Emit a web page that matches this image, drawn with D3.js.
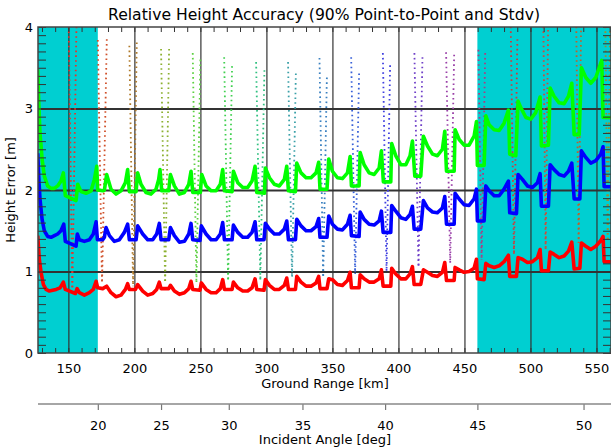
<!DOCTYPE html>
<html>
<head>
<meta charset="utf-8">
<script src="https://cdn.jsdelivr.net/npm/d3@7"></script>
<style>
  body { margin: 0; background: #fff; }
  svg { display: block; font-family: "DejaVu Sans", sans-serif; }
</style>
</head>
<body>
<div id="chart"></div>
<script>

// ground range [km] and height error [m] along each envelope curve
var green = [
  [126.8,3.48],[127.5,3.11],[128.5,2.70],[130.1,2.38],[131.8,2.17],[134.3,2.05],[136.9,2.02],[139.4,2.02],[141.9,2.05],[144.4,2.11],[146.2,2.21],
  [147.7,1.93],[155.8,1.87],[157.1,2.07],[159.6,1.98],[163.4,1.96],[167.2,1.99],[169.7,2.13],[171.5,2.29],
  [172.2,2.00],[176.0,1.99],[177.3,2.00],[179.0,2.19],[182.3,2.01],[186.1,1.95],[189.9,1.99],[193.2,2.09],[194.9,2.25],
  [196.2,1.98],[201.3,1.98],[202.5,2.21],[205.0,2.07],[208.8,1.97],[212.6,1.95],[216.4,2.01],[218.4,2.13],[219.4,2.25],
  [220.7,1.99],[226.0,1.99],[227.3,2.19],[230.3,2.05],[234.1,1.95],[237.9,1.97],[241.2,2.07],[242.9,2.23],
  [244.2,1.97],[250.0,1.97],[251.0,2.19],[254.3,2.05],[258.1,1.99],[261.9,1.99],[265.1,2.07],[266.9,2.25],
  [268.2,1.99],[274.0,1.98],[275.0,2.23],[278.3,2.09],[282.1,2.03],[285.8,2.03],[289.1,2.11],[291.4,2.29],
  [292.7,1.97],[298.5,1.96],[299.2,2.27],[302.3,2.15],[306.0,2.07],[309.8,2.05],[313.6,2.13],[315.4,2.29],
  [316.7,1.99],[322.0,1.98],[323.0,2.33],[326.2,2.21],[330.0,2.15],[333.8,2.15],[337.6,2.21],[339.6,2.34],
  [340.6,2.01],[345.9,2.01],[347.2,2.38],[350.0,2.23],[353.8,2.15],[357.6,2.14],[361.4,2.21],[363.4,2.41],
  [364.4,2.05],[370.2,2.05],[371.0,2.46],[374.0,2.31],[377.8,2.21],[381.6,2.19],[385.4,2.27],[387.1,2.48],
  [388.6,2.10],[394.2,2.10],[394.9,2.57],[398.0,2.42],[401.8,2.31],[405.6,2.31],[408.8,2.42],[410.6,2.60],
  [412.4,2.17],[416.9,2.17],[418.9,2.66],[422.0,2.54],[425.8,2.44],[429.5,2.42],[433.3,2.50],[435.1,2.72],
  [436.4,2.23],[442.2,2.23],[442.9,2.74],[446.0,2.62],[449.7,2.55],[453.5,2.55],[457.3,2.66],[459.1,2.84],
  [459.8,2.30],[464.9,2.30],[466.2,2.91],[468.7,2.80],[472.5,2.74],[476.3,2.73],[480.0,2.82],[483.3,2.98],
  [484.3,2.44],[488.9,2.42],[490.6,3.09],[492.7,3.01],[496.5,2.89],[500.2,2.87],[504.0,2.95],[507.3,3.14],
  [508.3,2.54],[513.6,2.55],[514.9,3.25],[517.9,3.15],[521.7,3.07],[525.5,3.06],[528.8,3.15],[531.3,3.31],
  [533.1,2.68],[536.9,2.68],[538.6,3.50],[541.9,3.38],[545.7,3.31],[549.5,3.38],[554.0,3.59],
  [555.0,2.89],[561.0,2.89]
];

var blue = [
  [126.8,2.45],[127.5,2.17],[128.5,1.89],[130.1,1.64],[131.8,1.50],[134.3,1.43],[136.9,1.42],[139.4,1.44],[141.9,1.46],[144.4,1.50],[146.5,1.58],
  [147.7,1.37],[155.8,1.31],[156.8,1.46],[158.3,1.39],[162.1,1.37],[165.9,1.39],[168.9,1.46],[171.0,1.61],
  [172.0,1.39],[176.0,1.39],[177.3,1.42],[178.5,1.54],[181.1,1.44],[184.8,1.37],[188.6,1.39],[192.4,1.48],[194.9,1.58],
  [196.2,1.39],[201.3,1.39],[202.5,1.56],[206.3,1.46],[210.1,1.39],[213.9,1.39],[216.9,1.46],[218.9,1.59],
  [220.2,1.39],[226.0,1.39],[227.3,1.54],[230.3,1.44],[234.1,1.36],[237.9,1.37],[241.2,1.46],[242.9,1.59],
  [244.2,1.39],[249.7,1.38],[250.7,1.56],[254.3,1.46],[258.1,1.39],[261.9,1.39],[265.1,1.46],[266.9,1.60],
  [268.2,1.39],[274.0,1.39],[275.0,1.57],[278.3,1.48],[282.1,1.42],[285.8,1.42],[289.1,1.48],[291.4,1.61],
  [292.7,1.39],[298.2,1.39],[299.2,1.59],[302.3,1.52],[306.0,1.46],[309.8,1.46],[313.6,1.52],[315.4,1.62],
  [316.7,1.39],[322.0,1.39],[323.0,1.64],[326.2,1.56],[330.0,1.50],[333.8,1.50],[337.6,1.55],[339.6,1.65],
  [340.6,1.42],[345.9,1.42],[347.2,1.68],[350.0,1.58],[353.8,1.52],[357.6,1.51],[361.4,1.58],[363.4,1.69],
  [364.4,1.44],[370.2,1.43],[371.0,1.73],[374.0,1.64],[377.8,1.58],[381.6,1.57],[385.4,1.62],[387.1,1.74],
  [388.4,1.48],[394.2,1.48],[394.9,1.81],[398.0,1.74],[401.8,1.66],[405.6,1.64],[408.8,1.70],[410.6,1.80],
  [411.9,1.52],[416.9,1.52],[418.9,1.87],[422.0,1.78],[425.8,1.73],[429.5,1.72],[433.3,1.78],[435.1,1.92],
  [436.4,1.58],[442.2,1.58],[442.9,1.96],[446.0,1.89],[449.7,1.82],[453.5,1.81],[457.3,1.89],[459.1,2.01],
  [459.8,1.62],[464.9,1.62],[466.2,2.05],[468.7,1.99],[472.5,1.93],[476.3,1.93],[480.0,2.01],[483.3,2.11],
  [484.3,1.72],[489.4,1.71],[490.6,2.19],[493.9,2.13],[497.7,2.05],[501.5,2.03],[505.3,2.09],[507.3,2.20],
  [508.3,1.80],[513.6,1.80],[514.9,2.31],[517.9,2.25],[521.7,2.19],[525.5,2.17],[528.8,2.23],[531.3,2.33],
  [533.1,1.89],[537.4,1.89],[538.6,2.48],[541.9,2.40],[545.7,2.33],[549.5,2.36],[553.3,2.44],[555.0,2.53],
  [555.8,2.04],[561.0,2.04]
];

var red = [
  [126.8,1.44],[128.0,1.15],[129.3,0.99],[131.1,0.84],[133.1,0.78],[135.6,0.76],[138.1,0.77],[140.7,0.78],[143.7,0.80],[146.2,0.87],
  [147.7,0.78],[155.3,0.73],[156.6,0.79],[158.3,0.74],[162.1,0.71],[165.9,0.74],[168.9,0.78],[171.0,0.88],
  [172.2,0.80],[176.0,0.79],[179.0,0.82],[182.3,0.74],[186.1,0.69],[189.9,0.71],[193.2,0.78],[194.9,0.85],
  [196.2,0.78],[200.8,0.78],[202.5,0.84],[206.3,0.76],[210.1,0.71],[213.9,0.73],[216.9,0.78],[218.9,0.87],
  [220.2,0.79],[226.0,0.79],[227.3,0.83],[230.3,0.76],[234.1,0.72],[237.9,0.74],[241.2,0.79],[242.9,0.88],
  [244.2,0.78],[249.7,0.77],[250.7,0.86],[254.3,0.78],[258.1,0.74],[261.9,0.74],[265.1,0.79],[266.9,0.90],
  [268.2,0.78],[274.0,0.78],[275.0,0.87],[278.3,0.80],[282.1,0.76],[285.8,0.76],[289.1,0.80],[291.4,0.91],
  [292.7,0.78],[298.2,0.77],[299.2,0.90],[302.3,0.83],[306.0,0.78],[309.8,0.78],[313.6,0.83],[315.4,0.92],
  [316.7,0.78],[322.0,0.78],[323.0,0.94],[326.2,0.87],[330.0,0.82],[333.8,0.82],[337.6,0.86],[339.6,0.94],
  [340.6,0.79],[345.9,0.79],[347.2,0.91],[350.0,0.90],[353.8,0.84],[357.6,0.83],[361.4,0.89],[363.4,0.99],
  [364.4,0.80],[370.2,0.80],[371.0,0.96],[374.0,0.91],[377.8,0.87],[381.6,0.87],[385.4,0.91],[387.1,1.02],
  [388.4,0.82],[394.2,0.82],[394.9,1.04],[398.0,0.97],[401.8,0.91],[405.6,0.91],[408.8,0.97],[410.6,1.06],
  [411.9,0.84],[416.9,0.84],[418.9,1.02],[422.0,0.99],[425.8,0.95],[429.5,0.94],[433.3,0.99],[435.1,1.11],
  [436.4,0.89],[442.2,0.89],[442.9,1.05],[446.0,1.02],[449.7,0.99],[453.5,1.00],[457.3,1.04],[459.1,1.15],
  [459.8,0.91],[464.9,0.90],[466.2,1.10],[468.7,1.07],[472.5,1.05],[476.3,1.07],[480.0,1.12],[483.3,1.20],
  [484.3,0.94],[489.4,0.94],[490.6,1.17],[493.9,1.15],[497.7,1.11],[501.5,1.12],[505.3,1.17],[507.3,1.27],
  [508.3,1.01],[513.6,1.01],[514.9,1.24],[517.9,1.21],[521.7,1.17],[525.5,1.19],[528.8,1.25],[531.3,1.36],
  [533.1,1.03],[537.4,1.04],[538.6,1.35],[541.9,1.31],[545.7,1.27],[549.5,1.31],[553.3,1.38],[555.0,1.43],
  [555.8,1.12],[561.0,1.12]
];

// single-beam curves at each beam switch: top of left / right flank, where they meet below
var flankKm = [[150.0,156.4],[172.3,179.1],[196.2,201.8],[220.2,226.3],[244.2,250.0],[268.0,274.0],
               [292.2,298.5],[316.4,322.3],[340.2,345.8],[364.2,370.2],[388.2,393.7],[412.1,418.2],
               [436.1,442.2],[460.6,465.7],[484.8,490.1],[509.6,513.5],[534.5,538.5],[556.5,560.5]];
var flankTop = [[4.3,4.3],[3.84,3.85],[3.77,3.81],[3.73,3.73],[3.68,3.60],[3.63,3.52],[3.57,3.47],
                [3.57,3.43],[3.62,3.38],[3.63,3.43],[3.68,3.53],[3.68,3.63],[3.69,3.66],[3.72,3.68],
                [4.3,3.85],[4.3,4.2],[4.3,4.25],[4.3,4.3]];
var flankBaseKm = [153.0,175.5,199.0,223.3,247.0,271.0,295.4,319.4,343.0,367.2,391.0,415.2,439.2,463.0,487.5,511.5,536.5,558.5];
var flankBaseErr = [0.78,0.85,0.82,0.85,0.86,0.88,0.90,0.92,0.93,0.97,1.0,1.05,1.1,1.14,1.2,1.26,1.35,1.4];
var beamColor = ["#e8322a","#d0502a","#b07a2a","#8cb030","#5cd040","#40d050","#30c080","#3aa0a8","#3a80c0",
                 "#3860d8","#4040e0","#7040c8","#9a40a8","#b03a80","#d03a3a","#d04a3a","#c0602a","#a08a2a"];

// shaded ground range (outside 20..45 deg incidence)
var shadeKm = [[127, 172.3], [459.8, 561]];

// axis ticks
var rangeMajor = [150, 200, 250, 300, 350, 400, 450, 500, 550];
var rangeMinor = d3.range(130, 561, 10);
var errMajor = [0, 1, 2, 3, 4];
var errMinor = d3.range(0, 41).map(function(i) { return i / 10; });
var angleTicks = [20, 25, 30, 35, 40, 45, 50];
var angleKm = [172.3, 220.2, 271.5, 327.3, 389.9, 459.8, 540.2];

var margin = {top: 27, right: 0, bottom: 94, left: 38},
    width = 611 - margin.left - margin.right,
    height = 447 - margin.top - margin.bottom;

var svg = d3.select("#chart")
  .append("svg")
    .attr("width", 611)
    .attr("height", 447);

var g = svg.append("g")
    .attr("transform", "translate(" + margin.left + "," + margin.top + ")");

var x = d3.scaleLinear().domain([127, 561]).range([0, width]);
var y = d3.scaleLinear().domain([0, 4]).range([height, 0]);

g.append("clipPath").attr("id", "plot")
  .append("rect").attr("width", width).attr("height", height);

// cyan bands
g.selectAll(".shade")
  .data(shadeKm)
  .join("rect")
    .attr("class", "shade")
    .attr("x", function(d) { return x(d[0]); })
    .attr("width", function(d) { return x(d[1]) - x(d[0]); })
    .attr("y", 0)
    .attr("height", height)
    .attr("fill", "#00cfd1");

// grid
g.append("g")
    .call(d3.axisLeft(y).tickValues([1, 2, 3]).tickSize(-width).tickFormat(""))
    .call(function(a) { a.select(".domain").remove(); })
    .selectAll("line").attr("stroke", "#8c8c8c").attr("stroke-width", 2);

g.append("g")
    .attr("transform", "translate(0," + height + ")")
    .call(d3.axisBottom(x).tickValues(rangeMajor).tickSize(-height).tickFormat(""))
    .call(function(a) { a.select(".domain").remove(); })
    .selectAll("line").attr("stroke", "#222").attr("stroke-width", 1.2);

var plot = g.append("g").attr("clip-path", "url(#plot)");

// dotted single-beam curves
var line = d3.line()
    .x(function(d) { return x(d[0]); })
    .y(function(d) { return y(d[1]); });

flankKm.forEach(function(k, i) {
  [0, 1].forEach(function(s) {
    plot.append("path")
      .attr("d", line([[k[s], flankTop[i][s]], [flankBaseKm[i], flankBaseErr[i]]]))
      .attr("fill", "none")
      .attr("stroke", beamColor[i])
      .attr("stroke-width", 1.8)
      .attr("stroke-dasharray", "1.6,3.2");
  });
});

// envelopes
[[green, "#00ff00"], [blue, "#0000ff"], [red, "#ff0000"]].forEach(function(s) {
  plot.append("path")
    .attr("d", line(s[0]))
    .attr("fill", "none")
    .attr("stroke", s[1])
    .attr("stroke-width", 3.6)
    .attr("stroke-linejoin", "round");
});

// minor ticks all round
function noDomain(a) { a.select(".domain").remove(); }
g.append("g")
    .call(d3.axisBottom(x).tickValues(rangeMinor).tickSize(5).tickFormat(""))
    .call(noDomain);
g.append("g")
    .attr("transform", "translate(0," + height + ")")
    .call(d3.axisTop(x).tickValues(rangeMinor).tickSize(5).tickFormat(""))
    .call(noDomain);
g.append("g")
    .call(d3.axisRight(y).tickValues(errMinor).tickSize(8).tickFormat(""))
    .call(noDomain);
g.append("g")
    .attr("transform", "translate(" + width + ",0)")
    .call(d3.axisLeft(y).tickValues(errMinor).tickSize(8).tickFormat(""))
    .call(noDomain);
g.selectAll(".tick line").attr("stroke", "#333");

g.append("rect")
    .attr("width", width)
    .attr("height", height)
    .attr("fill", "none")
    .attr("stroke", "#444")
    .attr("stroke-width", 1.5);

// tick labels
g.append("g")
    .call(d3.axisLeft(y).tickValues(errMajor).tickSize(0).tickPadding(5).tickFormat(d3.format("d")))
    .call(noDomain)
    .selectAll("text").attr("font-size", 13).attr("font-family", "DejaVu Sans");

g.append("g")
    .attr("transform", "translate(0," + height + ")")
    .call(d3.axisBottom(x).tickValues(rangeMajor).tickSize(0).tickPadding(10.5))
    .call(noDomain)
    .selectAll("text").attr("font-size", 13).attr("font-family", "DejaVu Sans");

// incident angle axis
var angle = d3.scaleLinear()
    .domain(angleTicks)
    .range(angleKm.map(function(k) { return x(k); }));

var angleAxis = g.append("g")
    .attr("transform", "translate(0," + (404 - margin.top) + ")")
    .call(d3.axisBottom(angle).tickValues(angleTicks).tickSize(6).tickPadding(11))
    .call(noDomain);
angleAxis.selectAll("text").attr("font-size", 13).attr("font-family", "DejaVu Sans");
angleAxis.selectAll("line").attr("stroke", "#777").attr("stroke-width", 1.2);
angleAxis.append("line")
    .attr("x1", 0).attr("x2", width)
    .attr("stroke", "#888").attr("stroke-width", 1.5);

// titles
svg.append("text")
    .attr("x", 324).attr("y", 20)
    .attr("text-anchor", "middle")
    .attr("font-size", 15)
    .attr("textLength", 432)
    .attr("lengthAdjust", "spacingAndGlyphs")
    .text("Relative Height Accuracy (90% Point-to-Point and Stdv)");

svg.append("text")
    .attr("x", 325).attr("y", 388)
    .attr("text-anchor", "middle")
    .attr("font-size", 13)
    .text("Ground Range [km]");

svg.append("text")
    .attr("x", 325).attr("y", 444)
    .attr("text-anchor", "middle")
    .attr("font-size", 13)
    .text("Incident Angle [deg]");

svg.append("text")
    .attr("transform", "translate(15,190) rotate(-90)")
    .attr("text-anchor", "middle")
    .attr("font-size", 13)
    .text("Height Error [m]");

</script>
</body>
</html>
